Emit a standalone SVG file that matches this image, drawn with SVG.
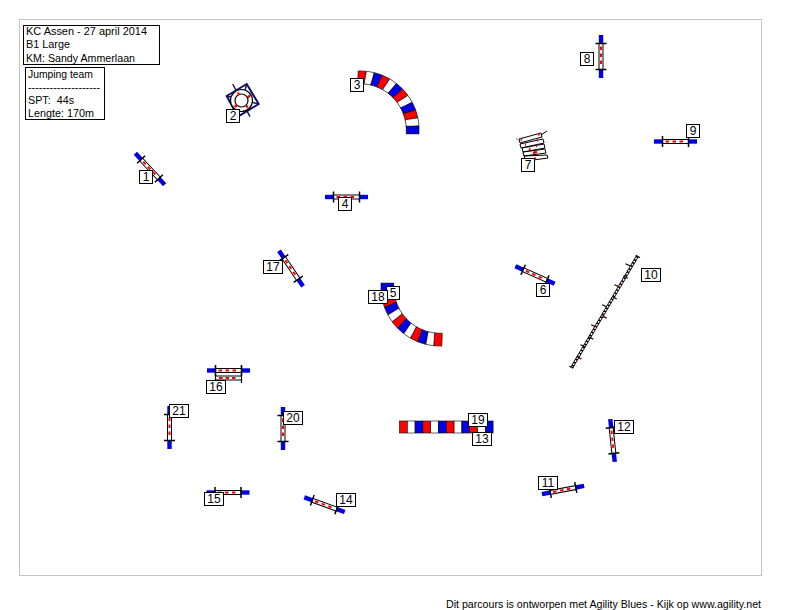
<svg xmlns="http://www.w3.org/2000/svg" width="800" height="610" viewBox="0 0 800 610">
<style>
text{font-family:"Liberation Sans",Arial,sans-serif;font-size:11px;fill:#000;white-space:pre}
.lb{fill:#fff;stroke:#000;stroke-width:1}
.n{font-size:12px;text-anchor:middle}
.b{fill:#0000e6;stroke:#000;stroke-width:.6}
.r{fill:#f00;stroke:#000;stroke-width:.6}
.w{fill:#fff;stroke:#000;stroke-width:.6}
</style>
<defs>
<g id="jump">
<rect x="-13" y="-2" width="26" height="4" fill="#fff" stroke="#000" stroke-width="1"/>
<path d="M-10 0H-6.500M-3 0H.5M4 0H7.500" stroke="#f00" stroke-width="2" fill="none"/>
<rect x="-21.500" y="-2.200" width="8.500" height="4.400" fill="#0000e6"/>
<rect x="13" y="-2.200" width="8.500" height="4.400" fill="#0000e6"/>
<path d="M-13-5.500V5.500M13-5.500V5.500" stroke="#000" stroke-width="1.500" fill="none"/>
</g>
<rect id="sb" x="-3.900" y="-59" width="7.800" height="12.800" class="b"/>
<rect id="sr" x="-3.900" y="-59" width="7.800" height="12.800" class="r"/>
<rect id="sw" x="-3.900" y="-59" width="7.800" height="12.800" class="w"/>
</defs>
<rect width="800" height="610" fill="#fff"/>
<rect x="19.500" y="19.500" width="742" height="556" fill="#fff" stroke="#c4c4c4" stroke-width="1"/>

<g id="info">
<rect x="23.500" y="25.500" width="136" height="39" fill="#fff" stroke="#000"/>
<text x="26" y="35" textLength="121" lengthAdjust="spacingAndGlyphs">KC Assen - 27 april 2014</text>
<text x="26" y="48" textLength="44" lengthAdjust="spacingAndGlyphs">B1 Large</text>
<text x="26" y="62" textLength="109" lengthAdjust="spacingAndGlyphs">KM: Sandy Ammerlaan</text>
<rect x="25.500" y="67.500" width="79" height="52" fill="#fff" stroke="#000"/>
<text x="28" y="78" textLength="65" lengthAdjust="spacingAndGlyphs">Jumping team</text>
<text x="28" y="91" textLength="72" lengthAdjust="spacingAndGlyphs">--------------------</text>
<text x="28" y="104" textLength="46" lengthAdjust="spacingAndGlyphs">SPT:  44s</text>
<text x="28" y="117" textLength="66" lengthAdjust="spacingAndGlyphs">Lengte: 170m</text>
</g>

<g id="obstacle-1"><use href="#jump" transform="translate(150,169) rotate(47)"/></g>
<g id="obstacle-2">
<path d="M246.700 84L258.700 104L238 116.500L226.700 96Z" fill="#fff" stroke="#10106a" stroke-width="2"/>
<path d="M232.700 84L250 116.700M226.700 96L258.700 104M246.700 84L238 116.500" stroke="#10106a" stroke-width="1.400" fill="none"/>
<circle cx="241.500" cy="100.500" r="11" fill="#fff" stroke="#000" stroke-width="1.200"/>
<circle cx="241.500" cy="100.500" r="6.500" fill="#fff" stroke="#000" stroke-width="1.200"/>
<path d="M237.500 94L239.500 93.500M248 95.500L249.500 97.500M235 105L236.500 107M246 107L248 106" stroke="#f00" stroke-width="3" fill="none"/>
</g>
<g id="obstacle-3" transform="translate(360,130)">
<use href="#sr" transform="rotate(2)"/><use href="#sw" transform="rotate(10)"/><use href="#sb" transform="rotate(18)"/>
<use href="#sr" transform="rotate(26)"/><use href="#sw" transform="rotate(34)"/><use href="#sb" transform="rotate(42)"/>
<use href="#sr" transform="rotate(50)"/><use href="#sw" transform="rotate(58)"/><use href="#sb" transform="rotate(66)"/>
<use href="#sr" transform="rotate(74)"/><use href="#sw" transform="rotate(82)"/><use href="#sb" transform="rotate(90)"/>
</g>
<g id="obstacle-4"><use href="#jump" transform="translate(346.500,197)"/></g>
<g id="obstacle-5-18" transform="translate(440,287)">
<use href="#sb" transform="rotate(-90)"/><use href="#sw" transform="rotate(-98)"/><use href="#sr" transform="rotate(-106)"/>
<use href="#sb" transform="rotate(-114)"/><use href="#sw" transform="rotate(-122)"/><use href="#sr" transform="rotate(-130)"/>
<use href="#sb" transform="rotate(-138)"/><use href="#sw" transform="rotate(-146)"/><use href="#sr" transform="rotate(-154)"/>
<use href="#sb" transform="rotate(-162)"/><use href="#sw" transform="rotate(-170)"/><use href="#sr" transform="rotate(-178)"/>
</g>
<g id="obstacle-6"><use href="#jump" transform="translate(535,275) rotate(24)"/></g>
<g id="obstacle-7">
<path d="M519 139L541 133L542 137L520 143ZM520 144L543 139L544 143L521 148ZM522 148L544 144L545 148L523 152ZM523 152L545 149L546 153L524 156ZM524 156L547 155L548 158L526 161Z" fill="#fff" stroke="#000" stroke-width="1"/>
<path d="M516.500 139H517.500M547 131L541 135" stroke="#000" stroke-width="1" fill="none"/>
<path d="M538 134.500L539.500 134M521 139.500L522 140M537 140.500L538 140M525 144.500L526 144.500M536 146L537 146M529 149L530.500 149M533 153L537 152M535 158.500L536 158" stroke="#f00" stroke-width="2.600" fill="none"/>
</g>
<g id="obstacle-8"><use href="#jump" transform="translate(601,56.500) rotate(90)"/></g>
<g id="obstacle-9"><use href="#jump" transform="translate(675.500,141.500)"/></g>
<g id="obstacle-10">
<path d="M571.500 368L637.500 256" stroke="#000" stroke-width="3" fill="none"/>
<path d="M571.500 368L637.500 256" stroke="#fff" stroke-width="1.400" stroke-dasharray="2 1.500" fill="none"/>
<path d="M576.700 356.500l4.300 2.500M589 336.800l4.300 2.500M602.400 315.800l4.300 2.500M612.400 296.500l4.300 2.500M623.400 275.800l4.300 2.500M635.700 255.200l4.300 2.500M573.300 367.700l-4-1.500M585 346.700l-4.500-2M595.700 326.700l-4.500-2M606.700 306.700l-4.500-2M619 286.700l-4.500-2M630 265.700l-4.500-2" stroke="#000" stroke-width="1.200" fill="none"/>
<path d="M580 358.500h1.500M603 317h1.500M595 326.500h1.500M618.500 287h1.500" stroke="#d00" stroke-width="1.500" fill="none"/>
</g>
<g id="obstacle-11"><use href="#jump" transform="translate(563,490) rotate(-11)"/></g>
<g id="obstacle-12"><use href="#jump" transform="translate(612.500,440.500) rotate(84)"/></g>
<g id="obstacle-13-19">
<rect x="399.500" y="421" width="7.800" height="12" class="r"/><rect x="407.300" y="421" width="7.800" height="12" class="w"/><rect x="415.100" y="421" width="7.800" height="12" class="b"/>
<rect x="422.900" y="421" width="7.800" height="12" class="r"/><rect x="430.700" y="421" width="7.800" height="12" class="w"/><rect x="438.500" y="421" width="7.800" height="12" class="b"/>
<rect x="446.300" y="421" width="7.800" height="12" class="r"/><rect x="454.100" y="421" width="7.800" height="12" class="w"/><rect x="461.900" y="421" width="7.800" height="12" class="b"/>
<rect x="469.700" y="421" width="7.800" height="12" class="r"/><rect x="477.500" y="421" width="7.800" height="12" class="w"/><rect x="485.300" y="421" width="7.800" height="12" class="b"/>
</g>
<g id="obstacle-14"><use href="#jump" transform="translate(324.500,504.700) rotate(20)"/></g>
<g id="obstacle-15"><use href="#jump" transform="translate(228,492.500)"/></g>
<g id="obstacle-16">
<use href="#jump" transform="translate(228.500,370.500)"/>
<rect x="215.500" y="376" width="26" height="4" fill="#fff" stroke="#000" stroke-width="1"/>
<path d="M219 378h3.500M225.500 378h3.500M232 378h3.500" stroke="#f00" stroke-width="2" fill="none"/>
<path d="M215.500 365V383M241.500 365V383" stroke="#000" stroke-width="1.200" fill="none"/>
</g>
<g id="obstacle-17"><use href="#jump" transform="translate(291,268.500) rotate(56)"/></g>
<g id="obstacle-20"><use href="#jump" transform="translate(283,428.500) rotate(90)"/></g>
<g id="obstacle-21"><use href="#jump" transform="translate(169.500,427.500) rotate(90)"/></g>

<g id="label-1"><rect class="lb" x="139.500" y="170.500" width="13" height="13"/><text class="n" x="146" y="181">1</text></g>
<g id="label-2"><rect class="lb" x="226.500" y="109.500" width="13" height="13"/><text class="n" x="233" y="120">2</text></g>
<g id="label-3"><rect class="lb" x="350.500" y="78.500" width="13" height="13"/><text class="n" x="357" y="89">3</text></g>
<g id="label-4"><rect class="lb" x="338.500" y="197.500" width="13" height="13"/><text class="n" x="345" y="208">4</text></g>
<g id="label-5"><rect class="lb" x="386.500" y="286.500" width="13" height="13"/><text class="n" x="393" y="297">5</text></g>
<g id="label-18"><rect class="lb" x="368.500" y="290.500" width="19" height="13"/><text class="n" x="378" y="301">18</text></g>
<g id="label-6"><rect class="lb" x="536.500" y="283.500" width="13" height="13"/><text class="n" x="543" y="294">6</text></g>
<g id="label-7"><rect class="lb" x="521.500" y="158.500" width="13" height="13"/><text class="n" x="528" y="169">7</text></g>
<g id="label-8"><rect class="lb" x="580.500" y="52.500" width="13" height="13"/><text class="n" x="587" y="63">8</text></g>
<g id="label-9"><rect class="lb" x="686.500" y="124.500" width="13" height="13"/><text class="n" x="693" y="135">9</text></g>
<g id="label-10"><rect class="lb" x="641.500" y="268.500" width="19" height="13"/><text class="n" x="651" y="279">10</text></g>
<g id="label-11"><rect class="lb" x="538.500" y="476.500" width="19" height="13"/><text class="n" x="548" y="487">11</text></g>
<g id="label-12"><rect class="lb" x="614.500" y="420.500" width="19" height="13"/><text class="n" x="624" y="431">12</text></g>
<g id="label-13"><rect class="lb" x="472.500" y="432.500" width="19" height="13"/><text class="n" x="482" y="443">13</text></g>
<g id="label-19"><rect class="lb" x="468.500" y="413.500" width="19" height="13"/><text class="n" x="478" y="424">19</text></g>
<g id="label-14"><rect class="lb" x="336.500" y="493.500" width="19" height="13"/><text class="n" x="346" y="504">14</text></g>
<g id="label-15"><rect class="lb" x="204.500" y="492.500" width="19" height="13"/><text class="n" x="214" y="503">15</text></g>
<g id="label-16"><rect class="lb" x="206.500" y="380.500" width="19" height="13"/><text class="n" x="216" y="391">16</text></g>
<g id="label-17"><rect class="lb" x="263.500" y="260.500" width="19" height="13"/><text class="n" x="273" y="271">17</text></g>
<g id="label-20"><rect class="lb" x="283.500" y="411.500" width="19" height="13"/><text class="n" x="293" y="422">20</text></g>
<g id="label-21"><rect class="lb" x="169.500" y="404.500" width="19" height="13"/><text class="n" x="179" y="415">21</text></g>

<text id="footer" x="446" y="608" textLength="315" lengthAdjust="spacingAndGlyphs">Dit parcours is ontworpen met Agility Blues - Kijk op www.agility.net</text>
</svg>
